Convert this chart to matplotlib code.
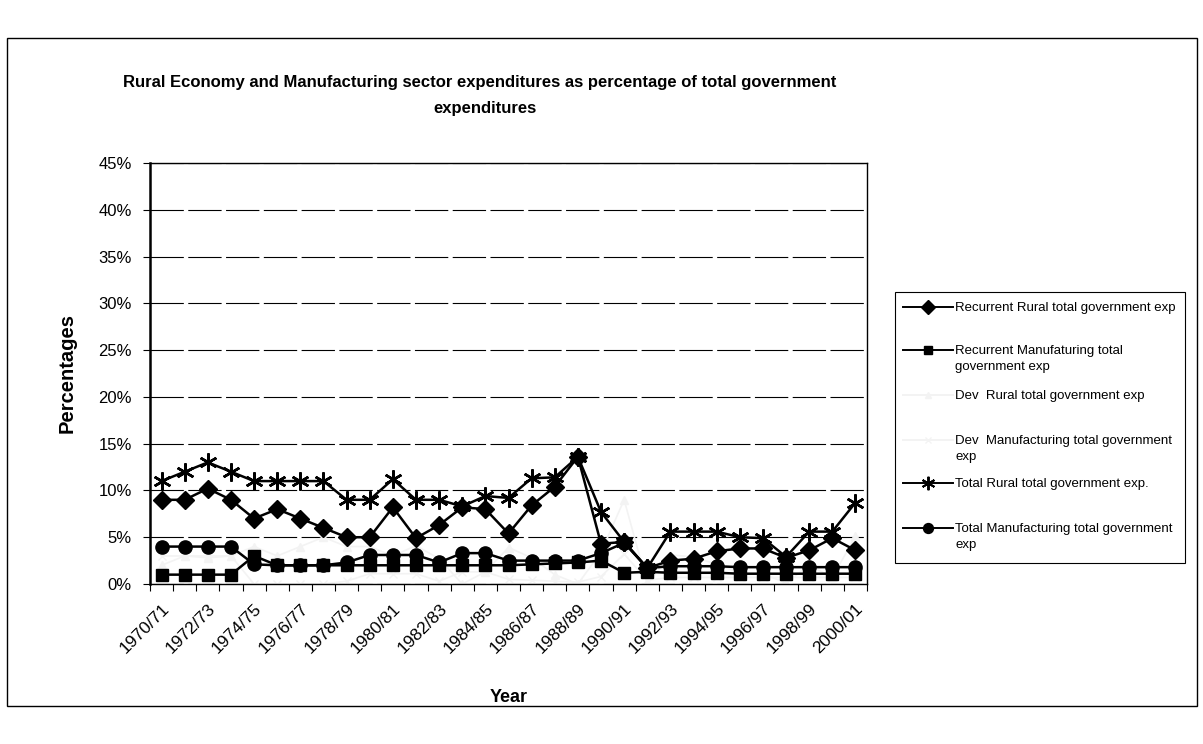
import numpy as np
import matplotlib
matplotlib.use("Agg")
from matplotlib import pyplot as plt
from matplotlib.patches import Rectangle
from matplotlib.lines import Line2D
from matplotlib.transforms import ScaledTranslation
from matplotlib.ticker import FixedLocator, FuncFormatter

plt.rcParams['font.family'] = ['Liberation Sans', 'DejaVu Sans']

years = ['1970/71', '1971/72', '1972/73', '1973/74', '1974/75', '1975/76',
         '1976/77', '1977/78', '1978/79', '1979/80', '1980/81', '1981/82',
         '1982/83', '1983/84', '1984/85', '1985/86', '1986/87', '1987/88',
         '1988/89', '1989/90', '1990/91', '1991/92', '1992/93', '1993/94',
         '1994/95', '1995/96', '1996/97', '1997/98', '1998/99', '1999/00',
         '2000/01']

# values in percent
rec_rural = [9.0, 9.0, 10.2, 9.0, 7.0, 8.0, 7.0, 6.0, 5.0, 5.0, 8.2, 4.9,
             6.3, 8.2, 8.0, 5.4, 8.4, 10.4, 13.6, 4.3, 4.5, 1.7, 2.5, 2.7,
             3.5, 3.8, 3.8, 2.8, 3.6, 4.9, 3.6]
rec_manuf = [1.0, 1.0, 1.0, 1.0, 3.0, 2.0, 2.0, 2.0, 2.0, 2.0, 2.0, 2.0,
             2.0, 2.0, 2.0, 2.0, 2.1, 2.2, 2.3, 2.5, 1.2, 1.3, 1.2, 1.2,
             1.2, 1.1, 1.1, 1.1, 1.1, 1.1, 1.1]
dev_rural = [2.0, 3.0, 2.8, 3.0, 4.0, 3.0, 4.0, 5.0, 4.0, 4.0, 3.0, 4.1,
             2.7, 0.0, 1.3, 3.9, 2.8, 1.0, 0.0, 3.4, 9.0, 0.0, 3.1, 2.9,
             2.1, 1.2, 1.1, 0.1, 2.0, 0.7, 5.1]
dev_manuf = [3.0, 3.0, 3.0, 3.0, 0.0, 0.0, 0.0, 0.0, 0.3, 1.1, 1.1, 1.1,
             0.3, 1.3, 1.3, 0.5, 0.4, 0.3, 0.2, 0.8, 3.2, 0.4, 0.7, 0.7,
             0.7, 0.7, 0.7, 0.7, 0.7, 0.7, 0.7]
tot_rural = [11.0, 12.0, 13.0, 12.0, 11.0, 11.0, 11.0, 11.0, 9.0, 9.0, 11.2,
             9.0, 9.0, 8.3, 9.4, 9.2, 11.3, 11.4, 13.6, 7.7, 4.5, 1.7, 5.6,
             5.6, 5.6, 5.0, 4.9, 2.9, 5.6, 5.6, 8.7]
tot_manuf = [4.0, 4.0, 4.0, 4.0, 2.1, 2.0, 2.0, 2.0, 2.3, 3.1, 3.1, 3.1,
             2.3, 3.3, 3.3, 2.5, 2.5, 2.5, 2.5, 3.3, 4.4, 1.7, 1.9, 1.9,
             1.9, 1.8, 1.8, 1.8, 1.8, 1.8, 1.8]

labels = ['Recurrent Rural total government exp',
          'Recurrent Manufaturing total\ngovernment exp',
          'Dev  Rural total government exp',
          'Dev  Manufacturing total government\nexp',
          'Total Rural total government exp.',
          'Total Manufacturing total government\nexp']

W, H = 1203, 744
fig = plt.figure(figsize=(W / 100, H / 100), dpi=100)
fig.patch.set_facecolor('white')

# outer chart border
fig.add_artist(Rectangle((7 / W, 1 - 706 / H), 1190 / W, 668 / H,
                         transform=fig.transFigure, fill=False,
                         edgecolor='black', lw=1.0))

ax = fig.add_axes([150 / W, 1 - 584 / H, 717 / W, 421 / H])
x = np.arange(len(years))

pale = '#f3f3f3'
black = 'black'
styles = [
    # colour, marker, marker size, line width
    (black, 'D', 9, 1.8),
    (black, 's', 8.5, 1.8),
    (pale, '^', 6, 1.2),
    (pale, 'x', 6, 1.2),
    (black, (6, 2, 0), 13, 1.8),
    (black, 'o', 9.5, 1.8),
]
series = [rec_rural, rec_manuf, dev_rural, dev_manuf, tot_rural, tot_manuf]

for k in [2, 3, 0, 1, 5, 4]:
    c, m, ms, lw = styles[k]
    ax.plot(x, series[k], color=c, lw=lw, marker=m, ms=ms, mec=c, mfc=c,
            mew=1.8 if k == 4 else 1.0)

ax.set_xlim(-0.5, len(years) - 0.5)
ax.set_ylim(0, 45)

ax.yaxis.set_major_locator(FixedLocator(np.arange(0, 46, 5)))
ax.yaxis.set_major_formatter(FuncFormatter(lambda v, p: '%d%%' % v))
ax.grid(axis='y', color='black', lw=0.8, linestyle=(0, (30, 4)))
ax.set_axisbelow(True)

ax.xaxis.set_major_locator(FixedLocator(x[::2]))
ax.set_xticklabels(years[::2], rotation=45, ha='right', va='top',
                   rotation_mode='anchor', fontsize=12.5)
shift = ScaledTranslation(-0.09, 0, fig.dpi_scale_trans)
for lab in ax.get_xticklabels():
    lab.set_transform(lab.get_transform() + shift)
ax.xaxis.set_minor_locator(FixedLocator(np.arange(-0.5, len(years), 1)))
ax.tick_params(axis='x', which='major', length=0, pad=12)
ax.tick_params(axis='x', which='minor', length=5, width=0.8, direction='out')
ax.tick_params(axis='y', length=5, width=0.8, labelsize=12, pad=8)

for side in ['top', 'right', 'bottom']:
    ax.spines[side].set_linewidth(1.0)
ax.spines['left'].set_linewidth(1.8)

ax.set_xlabel('Year', fontsize=13, fontweight='bold', labelpad=24)
ax.set_ylabel('Percentages', fontsize=14.5, fontweight='bold', labelpad=16)

fig.text(480 / W, 1 - 82 / H,
         'Rural Economy and Manufacturing sector expenditures as percentage '
         'of total government',
         ha='center', va='center', fontsize=12, fontweight='bold')
fig.text(485 / W, 1 - 108 / H, 'expenditures',
         ha='center', va='center', fontsize=12, fontweight='bold')

# legend box drawn the way the spreadsheet lays it out: fixed slots,
# text hanging from the first line
fig.add_artist(Rectangle((895 / W, 1 - 563 / H), 290 / W, 271 / H,
                         transform=fig.transFigure, fill=False,
                         edgecolor='black', lw=0.8))
slot_y = [307, 350, 395, 440, 483, 528]
for k, yy in enumerate(slot_y):
    c, m, ms, lw = styles[k]
    yf = 1 - yy / H
    fig.add_artist(Line2D([903 / W, 928 / W, 953 / W], [yf, yf, yf],
                          transform=fig.transFigure, color=c, lw=1.4,
                          marker=m, markevery=[1], ms=ms * 0.75, mec=c,
                          mfc=c, mew=1.4 if k == 4 else 1.0))
    fig.text(955 / W, 1 - (yy - 5) / H, labels[k], ha='left', va='top',
             fontsize=9.5, linespacing=1.4)

fig.savefig('out.png', dpi=100, facecolor='white')
